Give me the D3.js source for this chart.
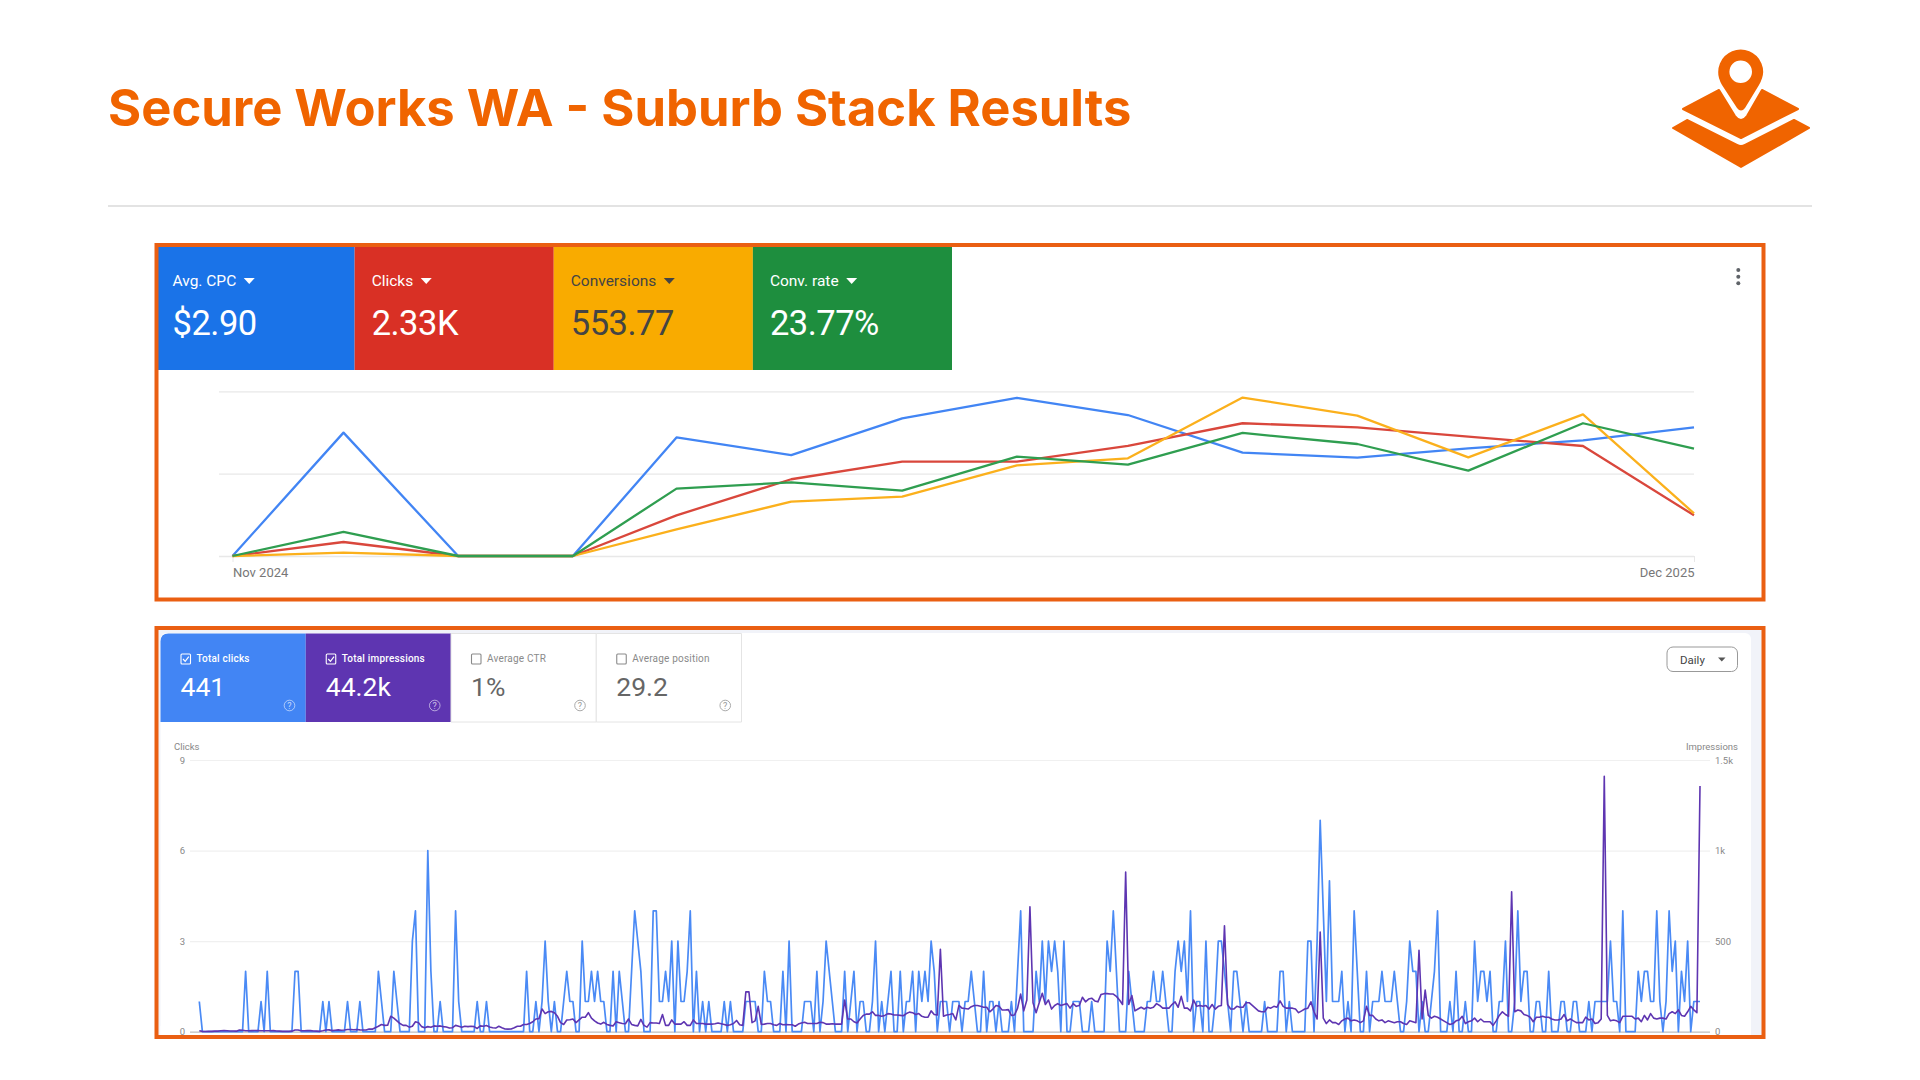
<!doctype html>
<html lang="en">
<head>
<meta charset="utf-8">
<title>Secure Works WA - Suburb Stack Results</title>
<script src="https://cdn.jsdelivr.net/npm/d3@7"></script>
<style>
  html, body { margin: 0; background: #fff; }
  svg { display: block; }
  text { font-family: Roboto, sans-serif; }
  .axis .domain { display: none; }
</style>
</head>
<body>
<script>
// ---- top panel (monthly, values read as % of the top gridline)
var months = ["2024-11-01","2024-12-01","2025-01-01","2025-02-01","2025-03-01","2025-04-01","2025-05-01",
              "2025-06-01","2025-07-01","2025-08-01","2025-09-01","2025-10-01","2025-11-01","2025-12-01"];
var avgCpcSeries = [0,74.9,0,0,72,61.3,83.6,96,85.6,62.8,59.7,65.4,70.2,78.1];
var clicksSeries = [0,8.5,0,0,24.7,46.6,57.3,57.3,66.8,80.6,78.1,72.5,66.8,24.7];
var conversionsSeries = [0,2,0,0,16.2,33,36,55,59.3,96.2,85.2,59.9,86,25.9];
var convRateSeries = [0,14.6,0,0,40.9,44.7,39.7,60.3,55.5,74.7,68,51.8,80.6,65.2];

var adsLabels = ["Avg. CPC", "Clicks", "Conversions", "Conv. rate"];
var adsValues = ["$2.90", "2.33K", "553.77", "23.77%"];
var adsGrid = [0, 50, 100];

// ---- bottom panel (daily)
var gscClicks = [
  1,0,0,0,0,0,0,0,0,0, 0,0,0,0,0,2,0,0,0,0, 1,0,2,0,0,0,0,0,0,0, 0,2,2,0,0,0,0,0,0,0,
  1,0,1,0,0,0,0,0,1,0, 0,0,1,0,0,0,0,0,2,1, 0,0,0,2,1,0,0,0,0,3, 4,0,0,0,6,2,0,0,1,0,
  0,0,0,4,1,0,0,0,0,0, 1,0,0,1,0,0,0,0,0,0, 0,0,0,0,0,0,2,0,0,1, 0,1,3,1,0,1,0,0,1,2,
  1,1,0,0,3,1,1,2,1,2, 1,1,0,0,2,0,2,1,0,0, 2,4,3,2,0,0,0,4,4,1, 1,2,1,3,0,3,1,1,2,4,
  0,2,0,1,0,1,0,0,0,0, 1,0,1,0,0,0,0,1,1,1, 1,0,0,2,1,1,0,0,0,2, 0,3,0,0,0,0,1,1,1,0,
  2,0,1,3,2,1,0,0,0,2, 0,1,2,0,1,1,0,0,1,3, 0,1,0,1,2,0,0,2,0,1, 1,2,0,2,1,2,1,3,2,0,
  1,1,1,0,1,1,1,0,1,1, 2,1,0,0,2,0,1,1,0,1, 0,0,0,1,0,2,4,0,0,0, 0,2,1,3,1,3,2,3,2,0,
  3,0,0,1,1,1,0,0,0,1, 0,0,0,0,3,2,4,2,0,0, 0,2,1,0,0,0,0,1,1,2, 1,1,2,1,0,0,2,3,2,3,
  1,4,0,1,1,0,3,0,0,1, 3,3,2,1,0,2,2,1,0,1, 0,0,0,0,0,1,0,0,0,0, 2,2,0,1,0,0,0,0,0,3,
  3,0,3,7,4,1,5,1,1,1, 2,0,1,0,4,2,0,0,2,0, 1,1,1,2,1,1,1,2,1,0, 0,1,3,2,2,0,1,0,0,1,
  2,4,0,0,0,1,0,2,0,0, 1,0,0,3,1,2,2,1,2,0, 0,1,1,3,0,0,1,4,1,2, 2,0,0,1,1,0,0,2,0,0,
  0,1,1,0,0,1,1,0,0,0, 1,0,1,1,1,1,1,3,1,1, 0,4,0,0,0,0,2,1,2,2, 1,1,4,1,0,1,4,2,3,0,
  2,1,3,0,1,1,1
];
var gscImpressions = [
  5,2,1,2,2,3,3,5,6,5, 4,4,3,9,8,5,5,6,7,6, 5,5,5,5,6,4,3,2,2,2, 3,9,9,5,5,7,6,4,3,2,
  5,9,10,6,8,10,8,9,12,12, 11,12,10,9,9,15,14,22,30,40, 35,36,85,75,60,45,35,35,25,30,
  55,50,28,22,28,25,32,30,32,28, 26,20,22,35,30,24,30,28,30,28, 18,32,30,34,26,22,20,30,22,15,
  14,15,22,30,30,40,40,45,55,70, 72,125,100,110,112,105,85,50,40,65, 66,70,50,65,80,80,105,75,60,48,
  42,52,40,35,32,55,50,45,44,70, 40,35,32,68,35,25,50,48,48,45, 95,35,35,65,42,42,42,55,35,35,
  65,45,45,45,42,42,42,44,48,44, 40,35,38,45,62,38,35,220,220,50, 60,140,40,42,45,45,38,35,45,38,
  40,38,38,30,42,48,52,45,45,45, 45,52,50,42,42,44,42,42,42,175, 70,70,55,48,70,90,97,97,110,90,
  90,85,90,100,98,92,92,90,88,100, 108,105,95,100,85,80,80,115,95,92, 455,85,92,95,100,65,145,130,128,125,
  138,145,145,140,135,135,110,125,145,140, 120,120,122,90,92,130,208,115,175,690, 160,105,160,212,150,175,125,145,155,145,
  150,155,130,155,140,145,190,165,180,185, 170,165,205,210,210,208,208,195,175,150, 881,150,200,115,125,135,125,135,130,135,
  155,145,130,130,130,150,165,135,195,130, 130,115,175,140,145,140,145,125,150,125, 140,145,585,150,125,125,140,135,135,160,
  160,145,130,115,110,110,135,130,140,135, 170,140,130,130,130,125,105,115,125,130, 165,110,70,550,75,45,65,50,50,40,
  60,70,75,60,65,60,50,60,140,90, 90,70,60,65,50,60,55,50,55,55, 45,40,60,55,50,450,70,230,90,75,
  85,80,70,60,50,40,45,60,65,85, 45,55,60,75,55,70,55,55,55,35, 60,90,110,95,85,773,110,120,115,95,
  90,80,55,80,80,85,80,80,70,65, 65,70,95,60,70,60,50,50,50,80, 65,70,45,50,70,1410,90,60,65,60,
  50,85,85,85,85,70,75,55,90,65, 100,75,70,75,75,70,100,110,100,120, 90,85,110,140,120,105,1356
];
var gscLabels = ["Total clicks", "Total impressions", "Average CTR", "Average position"];
var gscValues = ["441", "44.2k", "1%", "29.2"];
var clickTicks = [0, 3, 6, 9];
var impressionTicks = [0, 500, 1000, 1500];

var orange = "#f06400", frameColor = "#ea5f12";

var svg = d3.select("body").append("svg")
    .attr("width", 1920)
    .attr("height", 1080);

// header
svg.append("text")
    .text("Secure Works WA - Suburb Stack Results")
    .attr("x", 108)
    .attr("y", 126)
    .attr("fill", orange)
    .style("font-family", "Inter, sans-serif")
    .style("font-weight", 700)
    .style("font-size", "50.7px");

svg.append("line")
    .attr("x1", 108).attr("x2", 1812)
    .attr("y1", 206).attr("y2", 206)
    .attr("stroke", "#c8c8c8")
    .attr("stroke-width", 1.2);

// logo
var logo = svg.append("g").attr("fill", orange);
logo.append("path")
    .attr("stroke", orange).attr("stroke-width", 2).attr("stroke-linejoin", "round")
    .attr("d", "M1683 109 L1719 90 L1735 116 Q1741 124 1747 116 L1762 90 L1798 109 L1741 138 Z");
logo.append("path")
    .attr("stroke", orange).attr("stroke-width", 2).attr("stroke-linejoin", "round")
    .attr("d", "M1673 128 L1687 120 L1737 145 Q1741 147 1745 145 L1794 120 L1809 128 L1741 167 Z");
logo.append("path")
    .attr("fill-rule", "evenodd")
    .attr("d", "M1718.2 72 A22.5 22.5 0 1 1 1763.2 72 Q1763 78 1759 85 L1745 108 Q1741 113 1737 108 L1722 85 Q1718 78 1718.2 72 Z M1729.4 71.7 A11.3 11.3 0 1 0 1752 71.7 A11.3 11.3 0 1 0 1729.4 71.7 Z");

// ---- top panel
var adsColors = ["#1a73e8", "#d93025", "#f9ab00", "#1e8e3e"];
var adsText = ["#fff", "#fff", "#444", "#fff"];
var adsTileX = d3.scaleBand().domain(adsLabels).range([155.5, 952]);

var adsTile = svg.selectAll(".ads-tile")
    .data(adsLabels)
    .enter()
    .append("g")
    .attr("class", "ads-tile")
    .attr("transform", d => "translate(" + adsTileX(d) + ",247)");

adsTile.append("rect")
    .attr("width", adsTileX.bandwidth())
    .attr("height", 123)
    .attr("fill", (d, i) => adsColors[i]);

adsTile.append("text")
    .attr("class", "ads-label")
    .text(d => d)
    .attr("x", 17)
    .attr("y", 39)
    .attr("fill", (d, i) => adsText[i])
    .style("font-size", "15.5px");

adsTile.append("text")
    .text((d, i) => adsValues[i])
    .attr("x", 17)
    .attr("y", 88)
    .attr("fill", (d, i) => adsText[i])
    .style("font-size", "34.5px")
    .style("letter-spacing", "-0.5px");

adsTile.each(function(d, i) {
    var g = d3.select(this);
    var w = g.select(".ads-label").node().getComputedTextLength();
    var cx = 17 + w + 13;
    g.append("path")
        .attr("d", "M" + (cx - 5.5) + " 31 h11 l-5.5 6 Z")
        .attr("fill", adsText[i]);
});

// kebab menu
svg.selectAll(".kebab")
    .data([270, 276.7, 283.3])
    .enter()
    .append("circle")
    .attr("class", "kebab")
    .attr("cx", 1738.3)
    .attr("cy", d => d)
    .attr("r", 2)
    .attr("fill", "#5f6368");

var parseMonth = d3.utcParse("%Y-%m-%d");
var monthDates = months.map(parseMonth);
var xMonth = d3.scaleUtc()
    .domain(d3.extent(monthDates))
    .range([232.5, 1694]);
var yAds = d3.scaleLinear().domain([0, 100]).range([556, 391.3]);

var adsGridAxis = d3.axisLeft(yAds)
    .tickValues(adsGrid)
    .tickSize(-1475)
    .tickFormat("");
var gridG = svg.append("g")
    .attr("class", "axis")
    .attr("transform", "translate(219,0)")
    .call(adsGridAxis);
gridG.selectAll("line").attr("stroke", "#e8e8e8").attr("stroke-width", 1.3);

var xMonthAxis = d3.axisBottom(xMonth)
    .tickValues([monthDates[0], monthDates[monthDates.length - 1]])
    .tickSize(6)
    .tickPadding(6)
    .tickFormat(d3.utcFormat("%b %Y"));
var xG = svg.append("g")
    .attr("class", "axis")
    .attr("transform", "translate(0,556)")
    .call(xMonthAxis);
xG.selectAll("line").attr("stroke", "#e8e8e8");
xG.selectAll("text")
    .attr("fill", "#777")
    .style("font-size", "13px")
    .style("text-anchor", (d, i) => i ? "end" : "start");

var adsLine = d3.line()
    .x((d, i) => xMonth(monthDates[i]))
    .y(d => yAds(d));

var adsSeries = [
    {values: avgCpcSeries, color: "#4285f4"},
    {values: clicksSeries, color: "#d9473c"},
    {values: conversionsSeries, color: "#fbb01c"},
    {values: convRateSeries, color: "#2f9e50"}
];
svg.selectAll(".ads-line")
    .data(adsSeries)
    .enter()
    .append("path")
    .attr("class", "ads-line")
    .attr("d", d => adsLine(d.values))
    .attr("fill", "none")
    .attr("stroke", d => d.color)
    .attr("stroke-width", 2.3)
    .attr("stroke-linejoin", "round");

svg.append("rect")
    .attr("x", 156.5).attr("y", 245)
    .attr("width", 1607).attr("height", 354.5)
    .attr("fill", "none")
    .attr("stroke", frameColor)
    .attr("stroke-width", 4);

// ---- bottom panel
svg.append("rect")
    .attr("x", 157).attr("y", 628)
    .attr("width", 1605).attr("height", 408)
    .attr("fill", "#f1f3f9");
svg.append("rect")
    .attr("x", 160.5).attr("y", 633)
    .attr("width", 1590.5).attr("height", 420)
    .attr("rx", 6)
    .attr("fill", "#fff");
svg.append("rect")
    .attr("x", 160.5).attr("y", 1026)
    .attr("width", 1590.5).attr("height", 10)
    .attr("fill", "#fff");

var gscFill = ["#4285f4", "#5e35b1", "#fff", "#fff"];
var gscInk = ["#fff", "#fff", "#8a8a8a", "#8a8a8a"];
var gscBig = ["#fff", "#fff", "#666", "#666"];
var gscTileX = d3.scaleBand().domain(gscLabels).range([160.5, 741.5]);

var gscTile = svg.selectAll(".gsc-tile")
    .data(gscLabels)
    .enter()
    .append("g")
    .attr("class", "gsc-tile")
    .attr("transform", d => "translate(" + gscTileX(d) + ",633.5)");

gscTile.append("path")
    .attr("d", (d, i) => {
        var w = gscTileX.bandwidth();
        return i === 0
            ? "M0 88.5 V8 Q0 0 8 0 H" + w + " V88.5 Z"
            : "M0 0 H" + w + " V88.5 H0 Z";
    })
    .attr("fill", (d, i) => gscFill[i])
    .attr("stroke", (d, i) => i > 1 ? "#e4e4e4" : "none");

gscTile.append("rect")
    .attr("x", 20.5).attr("y", 20.5)
    .attr("width", 9.5).attr("height", 10)
    .attr("rx", 1)
    .attr("fill", "none")
    .attr("stroke", (d, i) => gscInk[i])
    .attr("stroke-width", 1.1);

gscTile.filter((d, i) => i < 2)
    .append("path")
    .attr("d", "M22.5 25.5 l2.2 2.3 l3.6 -4.6")
    .attr("fill", "none")
    .attr("stroke", "#fff")
    .attr("stroke-width", 1.2);

gscTile.append("text")
    .text(d => d)
    .attr("x", 36)
    .attr("y", 28.5)
    .attr("fill", (d, i) => gscInk[i])
    .style("font-size", "10px")
    .style("font-weight", (d, i) => i < 2 ? 500 : 400)
    .style("letter-spacing", "0.2px");

gscTile.append("text")
    .text((d, i) => gscValues[i])
    .attr("x", 20)
    .attr("y", 62.5)
    .attr("fill", (d, i) => gscBig[i])
    .style("font-size", "26.5px");

gscTile.append("circle")
    .attr("cx", 129)
    .attr("cy", 72)
    .attr("r", 5.3)
    .attr("fill", "none")
    .attr("stroke", (d, i) => i < 2 ? "rgba(255,255,255,0.55)" : "#aaa");
gscTile.append("text")
    .text("?")
    .attr("x", 129)
    .attr("y", 75.2)
    .attr("text-anchor", "middle")
    .attr("fill", (d, i) => i < 2 ? "rgba(255,255,255,0.7)" : "#999")
    .style("font-size", "9px");

// daily button
svg.append("rect")
    .attr("x", 1667).attr("y", 647)
    .attr("width", 70.5).attr("height", 24.5)
    .attr("rx", 6)
    .attr("fill", "#fff")
    .attr("stroke", "#999");
svg.append("text")
    .text("Daily")
    .attr("x", 1680).attr("y", 663.5)
    .attr("fill", "#444")
    .style("font-size", "11.5px");
svg.append("path")
    .attr("d", "M1718 657.5 h7.5 l-3.75 4 Z")
    .attr("fill", "#555");

var xDay = d3.scaleLinear().domain([0, gscClicks.length - 1]).range([199.3, 1700]);
var yClicks = d3.scaleLinear().domain([0, 9]).range([1031.7, 760]);
var yImpressions = d3.scaleLinear().domain([0, 1500]).range([1031.7, 760]);

var clicksAxis = d3.axisLeft(yClicks)
    .tickValues(clickTicks)
    .tickSize(-1520)
    .tickPadding(5);
var leftG = svg.append("g")
    .attr("class", "axis")
    .attr("transform", "translate(190,0)")
    .call(clicksAxis);
leftG.selectAll("line").attr("stroke", d => d === 0 ? "#bdbdbd" : "#f0f0f0").attr("stroke-width", 1.2);
leftG.selectAll("text").attr("fill", "#888").style("font-size", "9.5px");

var impressionsAxis = d3.axisRight(yImpressions)
    .tickValues(impressionTicks)
    .tickSize(0)
    .tickPadding(5)
    .tickFormat(d => d >= 1000 ? (d / 1000) + "k" : d);
var rightG = svg.append("g")
    .attr("class", "axis")
    .attr("transform", "translate(1710,0)")
    .call(impressionsAxis);
rightG.selectAll("text").attr("fill", "#888").style("font-size", "9.5px");

svg.append("text")
    .text("Clicks")
    .attr("x", 174).attr("y", 750)
    .attr("fill", "#888")
    .style("font-size", "9.5px");
svg.append("text")
    .text("Impressions")
    .attr("x", 1738).attr("y", 750)
    .attr("text-anchor", "end")
    .attr("fill", "#888")
    .style("font-size", "9.5px");

svg.append("path")
    .datum(gscClicks)
    .attr("d", d3.line().x((d, i) => xDay(i)).y(d => yClicks(d)))
    .attr("fill", "none")
    .attr("stroke", "#4a8af5")
    .attr("stroke-width", 1.7)
    .attr("stroke-linejoin", "round");

svg.append("path")
    .datum(gscImpressions)
    .attr("d", d3.line().x((d, i) => xDay(i)).y(d => yImpressions(d)))
    .attr("fill", "none")
    .attr("stroke", "#5e35b1")
    .attr("stroke-width", 1.6)
    .attr("stroke-linejoin", "round");

svg.append("rect")
    .attr("x", 156.5).attr("y", 628)
    .attr("width", 1607).attr("height", 409)
    .attr("fill", "none")
    .attr("stroke", frameColor)
    .attr("stroke-width", 4);
</script>
</body>
</html>
